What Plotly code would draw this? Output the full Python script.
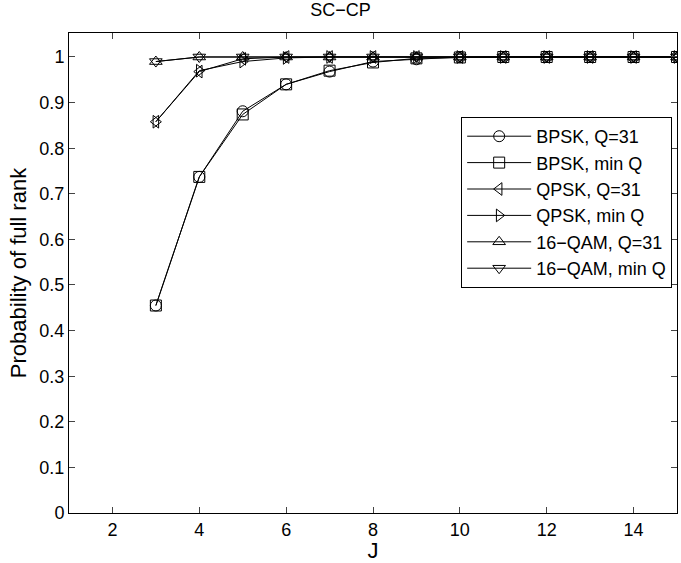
import plotly.graph_objects as go

J = list(range(3, 16))
bpsk_q31 = [0.455, 0.737, 0.881, 0.940, 0.968, 0.990, 0.995, 1.0, 1.0, 1.0, 1.0, 1.0, 1.0]
bpsk_minq = [0.455, 0.737, 0.874, 0.940, 0.970, 0.988, 0.997, 0.999, 1.0, 1.0, 1.0, 1.0, 1.0]
qpsk_q31 = [0.858, 0.968, 0.996, 1.0, 1.0, 1.0, 1.0, 1.0, 1.0, 1.0, 1.0, 1.0, 1.0]
qpsk_minq = [0.858, 0.970, 0.990, 0.998, 1.0, 1.0, 1.0, 1.0, 1.0, 1.0, 1.0, 1.0, 1.0]
qam_q31 = [0.990, 1.0, 1.0, 1.0, 1.0, 1.0, 1.0, 1.0, 1.0, 1.0, 1.0, 1.0, 1.0]
qam_minq = [0.990, 1.0, 1.0, 1.0, 1.0, 1.0, 1.0, 1.0, 1.0, 1.0, 1.0, 1.0, 1.0]

series = [
    ("BPSK, Q=31", bpsk_q31, "circle-open"),
    ("BPSK, min Q", bpsk_minq, "square-open"),
    ("QPSK, Q=31", qpsk_q31, "triangle-left-open"),
    ("QPSK, min Q", qpsk_minq, "triangle-right-open"),
    ("16\u2212QAM, Q=31", qam_q31, "triangle-up-open"),
    ("16\u2212QAM, min Q", qam_minq, "triangle-down-open"),
]

fig = go.Figure()
for name, ys, sym in series:
    fig.add_trace(go.Scatter(
        x=J, y=ys, name=name, mode="lines+markers",
        line=dict(color="black", width=1),
        marker=dict(symbol=sym, size=11, color="black", line=dict(color="black", width=1)),
    ))

font = dict(family="Liberation Sans, Arial, Helvetica, sans-serif", size=18, color="black")
fig.update_layout(
    width=681, height=563,
    margin=dict(l=69, r=4, t=33, b=50),
    paper_bgcolor="white", plot_bgcolor="white",
    font=font,
    title=dict(text="SC\u2212CP", x=0.5, xanchor="center", y=0.982, yanchor="middle",
               font=dict(size=18)),
    showlegend=True,
    legend=dict(x=0.645, y=0.825, xanchor="left", yanchor="top",
                bordercolor="black", borderwidth=1, bgcolor="white",
                font=dict(size=18), tracegroupgap=0, itemwidth=64),
    xaxis=dict(range=[1, 15], tickvals=[2, 4, 6, 8, 10, 12, 14], ticks="inside", ticklen=6,
               mirror="allticks", showline=True, linecolor="black", linewidth=1,
               showgrid=False, zeroline=False, title=dict(text="J", standoff=2)),
    yaxis=dict(range=[0, 1.0526], tickvals=[i / 10 for i in range(11)],
               ticktext=["0", "0.1", "0.2", "0.3", "0.4", "0.5", "0.6", "0.7", "0.8", "0.9", "1"],
               ticks="inside", ticklen=6,
               mirror="allticks", showline=True, linecolor="black", linewidth=1,
               showgrid=False, zeroline=False,
               title=dict(text="Probability of full rank", standoff=6)),
)

fig.write_html("out.html")
